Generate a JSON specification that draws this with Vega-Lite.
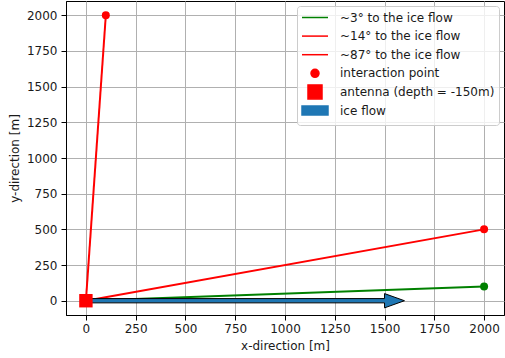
{
  "$schema": "https://vega.github.io/schema/vega-lite/v6.json",
  "width": 438,
  "height": 314,
  "autosize": {"type": "none"},
  "padding": {"left": 66, "top": 1, "right": 1, "bottom": 43},
  "config": {
    "font": "DejaVu Sans",
    "view": {"stroke": "black", "strokeWidth": 1},
    "axis": {
      "labelFont": "DejaVu Sans", "labelFontSize": 12, "labelColor": "#1a1a1a",
      "titleFont": "DejaVu Sans", "titleFontSize": 12, "titleFontWeight": "normal", "titleColor": "#1a1a1a",
      "domainColor": "black", "tickColor": "black", "tickSize": 5, "tickWidth": 1,
      "gridColor": "#b0b0b0", "gridWidth": 1, "gridOpacity": 1, "labelPadding": 4
    },
    "legend": {
      "fillColor": "rgba(255,255,255,0.8)",
      "strokeColor": "#cccccc",
      "cornerRadius": 3
    }
  },
  "datasets": {
    "lines": [
      {"series": "~3° to the ice flow", "x": 0, "y": 0, "k": 0},
      {"series": "~3° to the ice flow", "x": 2000, "y": 100, "k": 1},
      {"series": "~14° to the ice flow", "x": 0, "y": 0, "k": 0},
      {"series": "~14° to the ice flow", "x": 2000, "y": 500, "k": 1},
      {"series": "~87° to the ice flow", "x": 0, "y": 0, "k": 0},
      {"series": "~87° to the ice flow", "x": 100, "y": 2000, "k": 1}
    ],
    "points": [
      {"series": "~3° to the ice flow", "x": 2000, "y": 100},
      {"series": "~14° to the ice flow", "x": 2000, "y": 500},
      {"series": "~87° to the ice flow", "x": 100, "y": 2000}
    ],
    "arrow": [
      {"x": 0, "y": 15, "k": 0},
      {"x": 1500, "y": 15, "k": 1},
      {"x": 1500, "y": 50, "k": 2},
      {"x": 1600, "y": 0, "k": 3},
      {"x": 1500, "y": -50, "k": 4},
      {"x": 1500, "y": -15, "k": 5},
      {"x": 0, "y": -15, "k": 6},
      {"x": 0, "y": 15, "k": 7}
    ],
    "antenna": [{"x": 0, "y": 0}]
  },
  "encoding": {
    "x": {"field": "x", "type": "quantitative",
      "scale": {"domain": [-100, 2100], "nice": false, "zero": false},
      "axis": {"title": "x-direction [m]", "format": "d", "values": [0, 250, 500, 750, 1000, 1250, 1500, 1750, 2000], "labelPadding": 3, "titlePadding": 6}},
    "y": {"field": "y", "type": "quantitative",
      "scale": {"domain": [-100, 2100], "nice": false, "zero": false},
      "axis": {"title": "y-direction [m]", "format": "d", "values": [0, 250, 500, 750, 1000, 1250, 1500, 1750, 2000], "titlePadding": 5}}
  },
  "layer": [
    {
      "data": {"name": "lines"},
      "mark": {"type": "line", "strokeWidth": 2},
      "encoding": {
        "order": {"field": "k", "type": "quantitative"},
        "color": {"field": "series", "type": "nominal",
          "scale": {
            "domain": ["~3° to the ice flow", "~14° to the ice flow", "~87° to the ice flow", "interaction point", "antenna (depth = -150m)", "ice flow"],
            "range": ["#008000", "#ff0000", "#ff0000", "#ff0000", "#ff0000", "#1f77b4"]
          },
          "legend": {
            "title": null,
            "orient": "top-right",
            "offset": 5,
            "padding": 4,
            "rowPadding": -2.4,
            "labelFont": "DejaVu Sans",
            "labelFontSize": 12,
            "labelColor": "#1a1a1a",
            "labelOffset": 24,
            "labelLimit": 300,
            "symbolSize": 169,
            "symbolStrokeWidth": 1.5,
            "fillColor": "rgba(255,255,255,0.8)",
            "strokeColor": "#cccccc",
            "encode": {
              "symbols": {
                "update": {
                  "shape": {"signal": "'M-1,-1.1M3,1.1' + (datum.index < 3 ? 'M-1,0H3' : datum.index == 3 ? 'M1.615,0A0.615,0.615 0 1,1 0.385,0A0.615,0.615 0 1,1 1.615,0Z' : datum.index == 4 ? 'M-0.077,-1.077H2.077V1.077H-0.077Z' : 'M-1,-0.69H3V0.69H-1Z')"},
                  "fill": {"signal": "datum.index < 3 ? 'transparent' : datum.index == 5 ? '#1f77b4' : '#ff0000'"},
                  "stroke": {"signal": "datum.index == 0 ? '#008000' : datum.index < 3 ? '#ff0000' : datum.index == 5 ? '#000000' : 'transparent'"},
                  "opacity": {"value": 1}
                }
              }
            }
          }
        }
      }
    },
    {
      "data": {"name": "arrow"},
      "mark": {"type": "line", "fill": "#1f77b4", "stroke": "#000000", "strokeWidth": 1},
      "encoding": {"order": {"field": "k", "type": "quantitative"}}
    },
    {
      "data": {"name": "points"},
      "mark": {"type": "circle", "size": 64, "opacity": 1},
      "encoding": {"color": {"field": "series", "type": "nominal", "legend": null}}
    },
    {
      "data": {"name": "antenna"},
      "mark": {"type": "square", "size": 180, "color": "#ff0000", "opacity": 1}
    }
  ]
}
